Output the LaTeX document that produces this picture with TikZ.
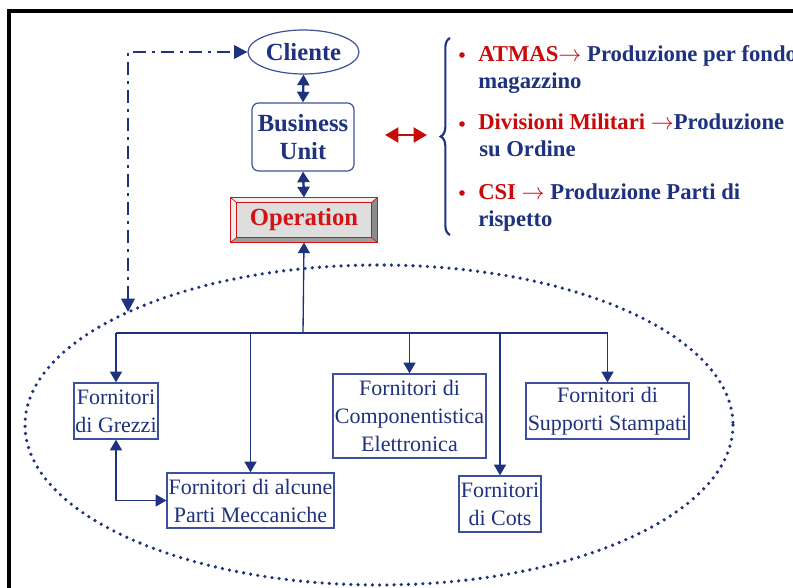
\documentclass[tikz,border=0pt]{standalone}
\usepackage{fontspec}
\setmainfont{Liberation Serif}
\usetikzlibrary{arrows.meta,calc,decorations.pathreplacing,shapes.geometric}

\definecolor{navy}{RGB}{30,50,125}
\definecolor{boxblue}{RGB}{60,80,155}
\definecolor{opred}{RGB}{210,20,20}
\definecolor{opface}{RGB}{222,222,222}
\definecolor{oplight}{RGB}{238,238,238}
\definecolor{opdark}{RGB}{140,140,140}
\definecolor{txtred}{RGB}{200,10,10}

\tikzset{
  x=0.75pt, y=-0.75pt,
  tip/.style={-{Triangle[length=8pt,width=9pt]}},
  bitip/.style={{Triangle[length=8pt,width=9pt]}-{Triangle[length=8pt,width=9pt]}},
  link/.style={draw=navy, line width=1pt},
  toplink/.style={draw=navy, line width=1.8pt, fill=navy},
  headbox/.style={draw=boxblue, line width=0.9pt, fill=white, text=navy,
    font=\fontsize{18.5}{21}\selectfont\bfseries, align=center, inner sep=0pt},
  supbox/.style={draw=boxblue, line width=1pt, fill=white, text=navy,
    font=\fontsize{16.5}{21}\selectfont, align=center, inner sep=0pt},
  item/.style={anchor=base west, inner sep=0pt, text=navy,
    font=\fontsize{17}{20}\selectfont\bfseries},
  dot/.style={circle, fill=txtred, inner sep=0pt, minimum size=4.2pt},
}

\newcommand{\redarr}{\textcolor{txtred}{$\rightarrow$}}

\begin{document}
\begin{tikzpicture}
\useasboundingbox (0,0) rectangle (793,588);
\fill[white] (0,0) rectangle (793,588);

% outer frame
\draw[black, line width=3pt] (9,600) -- (9,11) -- (800,11);

% supplier area
\draw[navy, line width=2.7pt, line cap=round, dash pattern=on 0pt off 5.4pt]
  (379,425) ellipse [x radius=354, y radius=160];

% top chain
\node[headbox, ellipse, minimum width=83.25pt, minimum height=33pt] (cli) at (303.5,52) {Cliente};
\node[headbox, rounded corners=5pt, minimum width=76.5pt, minimum height=51pt] (bu) at (303,137) {Business\\Unit};
\node[draw=opred, line width=0.8pt, fill=opface, text=opred, inner sep=0pt,
  minimum width=109.5pt, minimum height=33pt,
  font=\fontsize{18.5}{21}\selectfont\bfseries] (op) at (304,220) {Operation};

% bevel of the Operation button
\fill[oplight] (op.north west) -- (op.north east) -- ($(op.north east)+(-6,5)$) -- ($(op.north west)+(6,5)$) -- cycle;
\fill[oplight] (op.north west) -- ($(op.north west)+(6,5)$) -- ($(op.south west)+(6,-5)$) -- (op.south west) -- cycle;
\fill[opdark] (op.north east) -- ($(op.north east)+(-6,5)$) -- ($(op.south east)+(-6,-5)$) -- (op.south east) -- cycle;
\fill[opdark!85!white] (op.south west) -- ($(op.south west)+(6,-5)$) -- ($(op.south east)+(-6,-5)$) -- (op.south east) -- cycle;
\draw[opred, line width=0.8pt] (op.north west) rectangle (op.south east);
\draw[opred, line width=0.6pt] ($(op.north west)+(6,5)$) rectangle ($(op.south east)+(-6,-5)$);
\draw[opred, line width=0.5pt] (op.north west) -- ($(op.north west)+(6,5)$)
  (op.north east) -- ($(op.north east)+(-6,5)$)
  (op.south west) -- ($(op.south west)+(6,-5)$)
  (op.south east) -- ($(op.south east)+(-6,-5)$);

\draw[toplink, bitip] (cli.south) -- (bu.north);
\draw[toplink, bitip] (bu.south) -- (op.north);

% client feedback loop
\coordinate (loopend) at (128,312);
\draw[navy, line width=2pt, dash pattern=on 10pt off 4.5pt on 2pt off 4.5pt,
  {Triangle[length=10pt,width=10pt]}-{Triangle[length=10pt,width=10pt]}]
  (loopend) |- (cli.west);

% suppliers
\node[supbox, minimum width=63pt, minimum height=42pt] (grez) at (116,411) {Fornitori\\di Grezzi};
\node[supbox, minimum width=125.25pt, minimum height=41.25pt] (mecc) at (250.5,500.5) {Fornitori di alcune\\Parti Meccaniche};
\node[supbox, minimum width=114.75pt, minimum height=63pt] (comp) at (409.5,416) {Fornitori di\\Componentistica\\Elettronica};
\node[supbox, minimum width=61.5pt, minimum height=42pt] (cots) at (500,504) {Fornitori\\di Cots};
\node[supbox, minimum width=122.25pt, minimum height=42pt] (supp) at (607.5,411) {Fornitori di\\Supporti Stampati};

% distribution tree from Operation
\coordinate (hub) at (303,333);
\coordinate (bl) at (116,333);
\coordinate (br) at (607.5,333);
\draw[link, tip] (hub) -- (op.south);
\draw[link] (bl) -- (br);
\draw[link, tip] (bl) -- (grez.north);
\draw[link, tip] (250.5,333) -- (mecc.north);
\draw[link, tip] (409.5,333) -- (comp.north);
\draw[link, tip] (500,333) -- (cots.north);
\draw[link, tip] (br) -- (supp.north);
\draw[link, bitip] (grez.south) |- (mecc.west);

% business units list
\coordinate (ra) at (385,135);
\coordinate (rb) at (427,135);
\draw[txtred, line width=2.2pt,
  {Triangle[length=10pt,width=11pt]}-{Triangle[length=10pt,width=11pt]}] (ra) -- (rb);
\draw[navy, line width=1.6pt, decorate, decoration={brace, amplitude=7pt}] (450,235) -- (450,38);

\node[dot] (d1) at (462,55) {};
\node[dot] (d2) at (462,124) {};
\node[dot] (d3) at (462,193) {};
\node[item] (t1) at (478,62) {\textcolor{txtred}{ATMAS}\redarr{} Produzione per fondo};
\node[item] (t1b) at (478,89) {magazzino};
\node[item] (t2) at (478,130) {\textcolor{txtred}{Divisioni Militari} \redarr Produzione};
\node[item] (t2b) at (479,157) {su Ordine};
\node[item] (t3) at (478,200) {\textcolor{txtred}{CSI} \redarr{} Produzione Parti di};
\node[item] (t3b) at (478,227) {rispetto};
\end{tikzpicture}
\end{document}
